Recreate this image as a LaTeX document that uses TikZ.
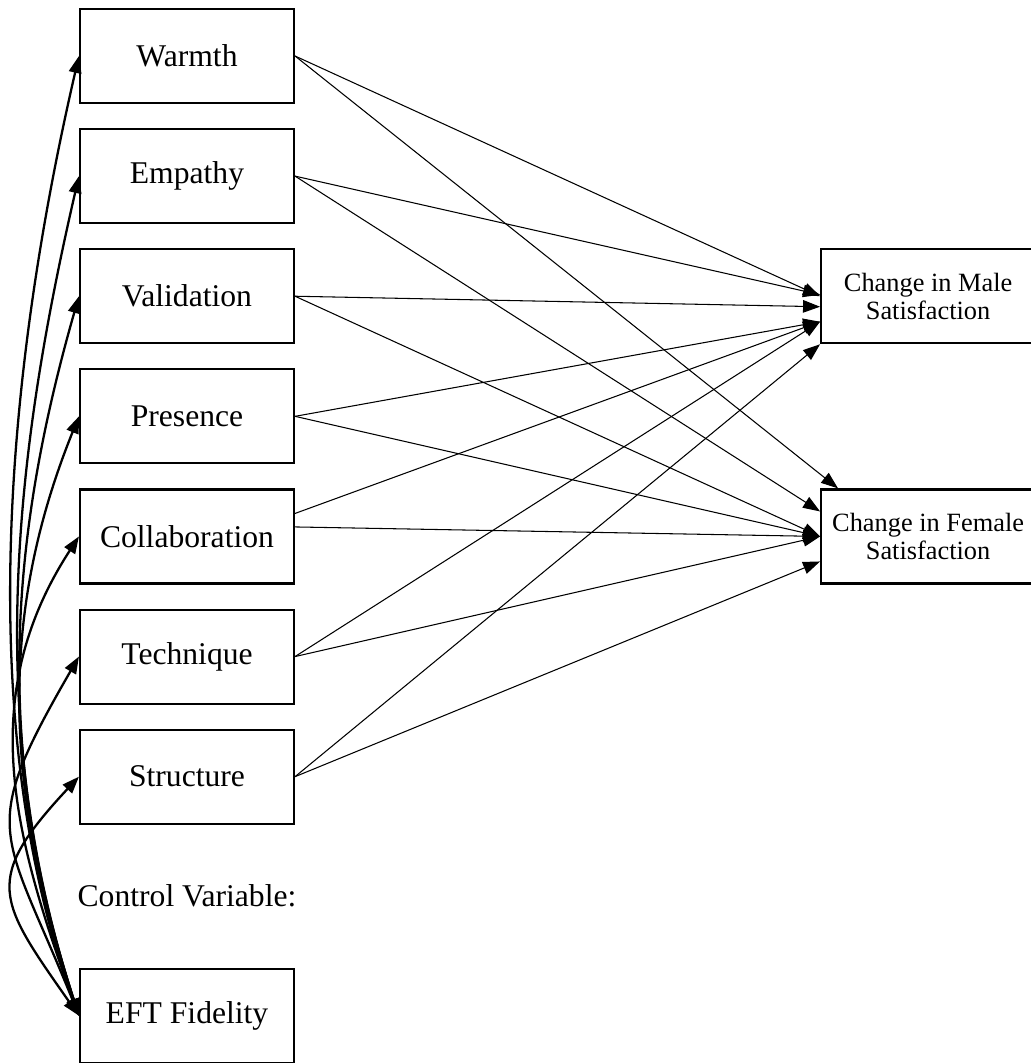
\documentclass[tikz,border=0pt]{standalone}
\usepackage{fontspec}
\setmainfont{Liberation Serif}
\usepackage{tikz}
\usetikzlibrary{arrows.meta,positioning,calc}

\begin{document}
\begin{tikzpicture}[>={Triangle[length=0.34cm,width=0.25cm]}, node distance=0.48cm,
    var/.style={draw, line width=1.2pt, minimum width=4.28cm, minimum height=1.88cm, font=\fontsize{18}{21}\selectfont},
    outcome/.style={draw, line width=1.2pt, minimum width=4.28cm, minimum height=1.88cm, align=center, font=\fontsize{15}{16}\selectfont},
    cov/.style={<->, line width=1.3pt},
    reg/.style={->, line width=0.6pt}]
    \useasboundingbox (0,0) rectangle (20.62,-21.26);

    % Nodes {predictors, outcomes, control}
    \node [var]         (warmth)    at (3.74,-1.12)          {Warmth};
    \node [var]         (empathy)   [below=of warmth]        {Empathy};
    \node [var]         (valid)     [below=of empathy]       {Validation};
    \node [var]         (presence)  [below=of valid]         {Presence};
    \node [var]         (collab)    [below=of presence]      {Collaboration};
    \node [var]         (technique) [below=of collab]        {Technique};
    \node [var]         (structure) [below=of technique]     {Structure};
    \node [var]         (eft)       [below=2.86cm of structure] {EFT Fidelity};
    \node [font=\fontsize{18}{21}\selectfont] (ctrl) at ($(structure.south)!0.5!(eft.north)$) {Control Variable:};
    \node [outcome]     (male)      [right=10.5cm of valid]  {Change in Male\\Satisfaction};
    \node [outcome]     (female)    [right=10.5cm of collab] {Change in Female\\Satisfaction};

    % Paths to male satisfaction
    \path [reg] (warmth.east)    edge (male.west);
    \path [reg] (empathy.east)   edge ([yshift=0.03cm]male.west);
    \path [reg] (valid.east)     edge ([yshift=-0.21cm]male.west);
    \path [reg] (presence.east)  edge ([yshift=-0.51cm]male.west);
    \path [reg] ([yshift=0.46cm]collab.east) edge ([yshift=-0.51cm]male.west);
    \path [reg] (technique.east) edge ([yshift=-0.51cm]male.west);
    \path [reg] (structure.east) edge (male.south west);

    % Paths to female satisfaction
    \path [reg] (warmth.east)    edge ([xshift=0.36cm]female.north west);
    \path [reg] (empathy.east)   edge ([yshift=0.5cm]female.west);
    \path [reg] (valid.east)     edge (female.west);
    \path [reg] (presence.east)  edge (female.west);
    \path [reg] ([yshift=0.19cm]collab.east) edge (female.west);
    \path [reg] (technique.east) edge (female.west);
    \path [reg] (structure.east) edge ([yshift=-0.5cm]female.west);

    % Covariances with the control variable
    \path [cov] (eft.west) edge [out=110, in=257, looseness=0.84] (warmth.west);
    \path [cov] (eft.west) edge [out=108, in=257, looseness=0.92] (empathy.west);
    \path [cov] (eft.west) edge [out=108, in=254, looseness=0.95] (valid.west);
    \path [cov] (eft.west) edge [out=108, in=248, looseness=0.97] (presence.west);
    \path [cov] (eft.west) edge [out=110, in=237, looseness=1.02] (collab.west);
    \path [cov] (eft.west) edge [out=112, in=240, looseness=1.46] (technique.west);
    \path [cov] (eft.west) edge [out=125, in=227, looseness=1.52] (structure.west);

\end{tikzpicture}
\end{document}
